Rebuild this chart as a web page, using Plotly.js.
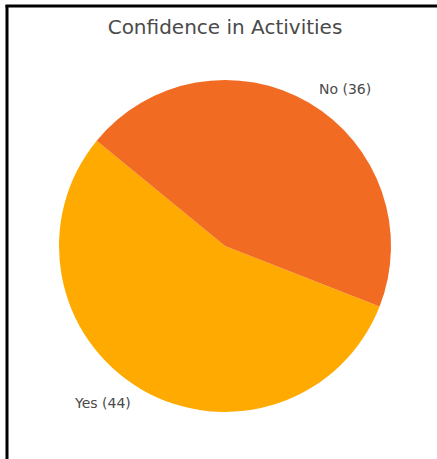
<!DOCTYPE html>
<html>
<head>
<meta charset="utf-8">
<script src="https://cdn.plot.ly/plotly-3.0.1.min.js"></script>
<style>html,body{margin:0;padding:0;background:#fff;}#chart{width:437px;height:459px;}</style>
</head>
<body>
<div id="chart"></div>
<script>
const chartTitle = 'Confidence in Activities';
const labels = ['Yes', 'No'];
const values = [44, 36];

const W = 437, H = 459;
const cx = 225, cy = 246, r = 166;
const rotation = 111.4; // degrees clockwise from 12 o'clock where first slice starts
const colors = ['#FFAA00', '#F26B22'];

const total = values.reduce((a, b) => a + b, 0);
const annotations = [];
let cum = 0;
for (let i = 0; i < values.length; i++) {
  const mid = (rotation + (cum + values[i] / 2) / total * 360) * Math.PI / 180;
  cum += values[i];
  const px = cx + 1.1 * r * Math.sin(mid);
  const py = cy - 1.1 * r * Math.cos(mid);
  annotations.push({
    x: px / W, y: 1 - py / H, xref: 'paper', yref: 'paper',
    text: labels[i] + ' (' + values[i] + ')',
    showarrow: false,
    xanchor: px >= cx ? 'left' : 'right', yanchor: 'middle',
    font: {family: 'DejaVu Sans', size: 14, color: '#4a4a4a'}
  });
}

const trace = {
  type: 'pie',
  labels: labels,
  values: values,
  sort: false,
  direction: 'clockwise',
  rotation: rotation,
  textinfo: 'none',
  hoverinfo: 'label+value',
  marker: {colors: colors, line: {width: 0}},
  domain: {x: [(cx - r) / W, (cx + r) / W], y: [1 - (cy + r) / H, 1 - (cy - r) / H]},
  showlegend: false
};

const layout = {
  width: W, height: H,
  margin: {l: 0, r: 0, t: 0, b: 0},
  paper_bgcolor: '#fff',
  title: {text: chartTitle, x: 225 / W, xanchor: 'center', xref: 'paper', y: 1 - 27 / H, yanchor: 'middle', yref: 'paper',
          font: {family: 'DejaVu Sans', size: 20, color: '#4a4a4a'}},
  annotations: annotations,
  shapes: [
    {type: 'line', xref: 'paper', yref: 'paper', x0: 7 / W, x1: 7 / W, y0: 0, y1: 1 - 5 / H, line: {color: '#000', width: 3}},
    {type: 'line', xref: 'paper', yref: 'paper', x0: 5.5 / W, x1: 1, y0: 1 - 6 / H, y1: 1 - 6 / H, line: {color: '#000', width: 3}}
  ]
};

Plotly.newPlot('chart', [trace], layout, {displayModeBar: false, staticPlot: true});
</script>
</body>
</html>
